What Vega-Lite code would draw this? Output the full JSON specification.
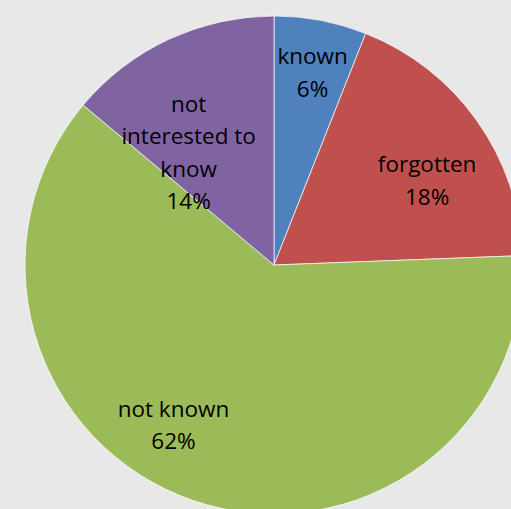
{
  "$schema": "https://vega.github.io/schema/vega-lite/v6.json",
  "width": 548,
  "height": 530,
  "autosize": "none",
  "padding": 0,
  "background": "#e8e8e8",
  "config": {"view": {"stroke": null, "fill": "#e8e8e8"}},
  "data": {"values": [
    {"idx": 1, "category": "known", "value": 6.0, "label": "known\n6%"},
    {"idx": 2, "category": "forgotten", "value": 18.4, "label": "forgotten\n18%"},
    {"idx": 3, "category": "not known", "value": 61.7, "label": "not known\n62%"},
    {"idx": 4, "category": "not interested to know", "value": 13.9, "label": "not\ninterested to\nknow\n14%"}
  ]},
  "encoding": {
    "theta": {"field": "value", "type": "quantitative", "stack": true},
    "order": {"field": "idx", "type": "quantitative"}
  },
  "layer": [
    {
      "mark": {"type": "arc", "outerRadius": 249, "stroke": "#ffffff", "strokeWidth": 0.7},
      "encoding": {
        "color": {"field": "category", "type": "nominal", "legend": null,
          "scale": {"domain": ["known", "forgotten", "not known", "not interested to know"],
                    "range": ["#4F81BD", "#C0504D", "#9BBB59", "#8064A2"]}}
      }
    },
    {
      "mark": {"type": "text", "radius": 190, "dx": 3, "dy": -21, "fontSize": 22.5, "font": "Open Sans", "lineBreak": "\n", "lineHeight": 32.5, "align": "center", "baseline": "middle", "color": "#000000"},
      "encoding": {"text": {"condition": {"test": "datum.category === 'known'", "field": "label"}, "value": ""}}
    },
    {
      "mark": {"type": "text", "radius": 190, "dx": -2, "dy": 10, "fontSize": 22.5, "font": "Open Sans", "lineBreak": "\n", "lineHeight": 32.5, "align": "center", "baseline": "middle", "color": "#000000"},
      "encoding": {"text": {"condition": {"test": "datum.category === 'forgotten'", "field": "label"}, "value": ""}}
    },
    {
      "mark": {"type": "text", "radius": 190, "dx": -39, "dy": -35, "fontSize": 22.5, "font": "Open Sans", "lineBreak": "\n", "lineHeight": 32.5, "align": "center", "baseline": "middle", "color": "#000000"},
      "encoding": {"text": {"condition": {"test": "datum.category === 'not known'", "field": "label"}, "value": ""}}
    },
    {
      "mark": {"type": "text", "radius": 190, "dx": -5, "dy": 12, "fontSize": 22.5, "font": "Open Sans", "lineBreak": "\n", "lineHeight": 32.5, "align": "center", "baseline": "middle", "color": "#000000"},
      "encoding": {"text": {"condition": {"test": "datum.category === 'not interested to know'", "field": "label"}, "value": ""}}
    }
  ]
}
